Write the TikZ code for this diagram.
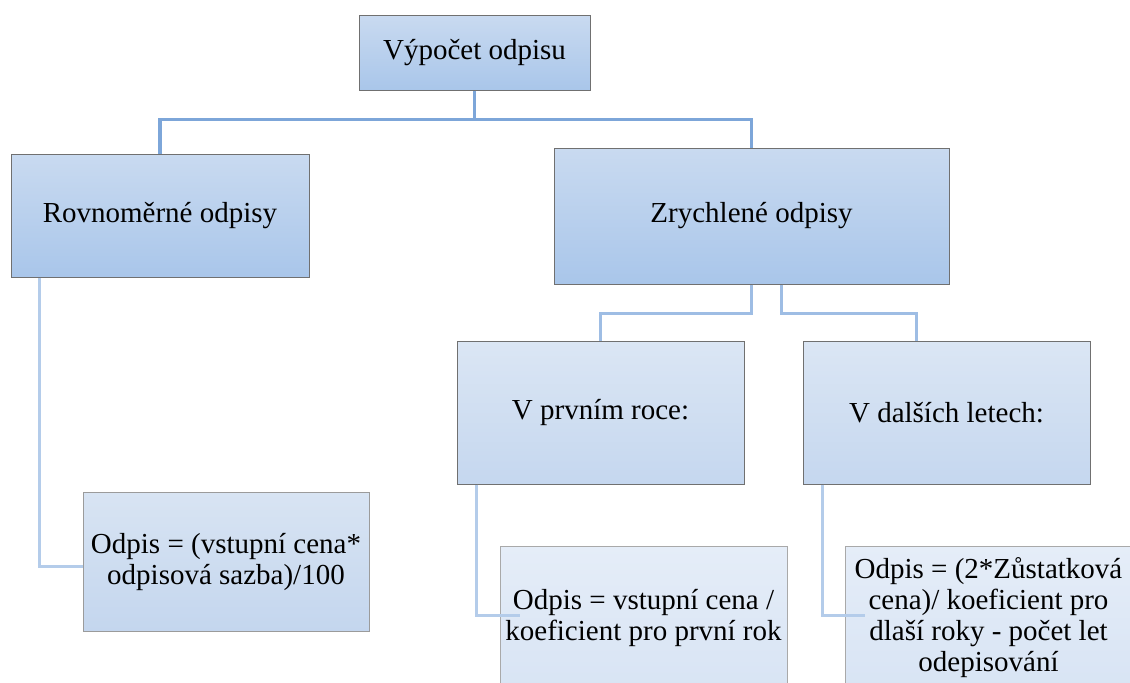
\documentclass[tikz,border=0pt]{standalone}
\usepackage{fontspec}
\setmainfont{Liberation Serif}
\newfontfamily\diagfont{Liberation Serif}
\usetikzlibrary{calc}

\definecolor{boxline}{RGB}{112,112,112}
\definecolor{linkdark}{RGB}{125,166,217}
\definecolor{linkmid}{RGB}{158,189,228}
\definecolor{linklight}{RGB}{180,204,234}

\tikzset{
	box/.style={draw=boxline, line width=0.5pt, align=center, inner sep=2pt,
		font=\diagfont\fontsize{14.5}{15.5}\selectfont},
	upper/.style={box, top color={rgb,255:red,201;green,218;blue,240}, bottom color={rgb,255:red,169;green,198;blue,234}},
	middle/.style={box, top color={rgb,255:red,219;green,230;blue,244}, bottom color={rgb,255:red,197;green,215;blue,239}},
	lower/.style={box, draw=boxline!70, top color={rgb,255:red,216;green,228;blue,243}, bottom color={rgb,255:red,196;green,214;blue,238}},
	lowest/.style={box, draw=boxline!60, top color={rgb,255:red,229;green,237;blue,248}, bottom color={rgb,255:red,216;green,228;blue,244}},
	link/.style={line width=1.6pt, linkdark},
	sublink/.style={line width=1.5pt, linkmid},
	elbow/.style={line width=1.5pt, linklight}
}

\begin{document}
\begin{tikzpicture}[x=0.5pt, y=-0.5pt]
	\useasboundingbox	(0, 0) rectangle (1130, 682);
	\clip				(0, 0) rectangle (1130, 682);

	% boxes
	\node[upper, minimum width=115.5pt, minimum height=37.5pt]	(vypocet)		at (474.5, 52.5)	{Výpočet odpisu};
	\node[upper, minimum width=149pt, minimum height=61.5pt]	(rovnomerne)	at (160, 215.5)		{Rovnoměrné odpisy};
	\node[upper, minimum width=197.5pt, minimum height=68pt]	(zrychlene)		at (751.5, 216)		{Zrychlené odpisy};
	\node[middle, minimum width=143.5pt, minimum height=71.5pt]	(prvni)			at (600.5, 412.5)	{V prvním roce:};
	\node[middle, minimum width=143.5pt, minimum height=71.5pt]	(dalsi)			at (946.5, 412.5)	{V dalších letech:};

	\node[lower, minimum width=143pt, minimum height=69.5pt]	(rovnvzorec)	at (226, 561.5)		{Odpis = (vstupní cena*\\odpisová sazba)/100};
	\node[lowest, minimum width=143.5pt, minimum height=71.5pt]	(prvnivzorec)	at (643.5, 617.5)	{Odpis = vstupní cena /\\koeficient pro první rok};
	\node[lowest, minimum width=143.5pt, minimum height=71.5pt]	(dalsivzorec)	at (988.5, 617.5)	{Odpis = (2*Zůstatková\\cena)/ koeficient pro\\dlaší roky - počet let\\odepisování};

	% connectors
	\draw[link]		(vypocet.south) -- ++(0, 29) -| (rovnomerne.north);
	\draw[link]		(vypocet.south) -- ++(0, 29) -| (zrychlene.north);

	\draw[sublink]	(zrychlene.south) -- ++(0, 29) -| (prvni.north);
	\draw[sublink]	($(zrychlene.south)+(30, 0)$) -- ++(0, 29) -| ($(dalsi.north)+(-30, 0)$);

	\draw[elbow]	($(rovnomerne.south west)+(29, 0)$) |- ($(rovnvzorec.west)+(0, 5)$);
	\draw[elbow]	($(prvni.south west)+(20, 0)$) |- ($(prvnivzorec.west)+(20, -2)$);
	\draw[elbow]	($(dalsi.south west)+(20, 0)$) |- ($(dalsivzorec.west)+(20, -2)$);
\end{tikzpicture}
\end{document}
